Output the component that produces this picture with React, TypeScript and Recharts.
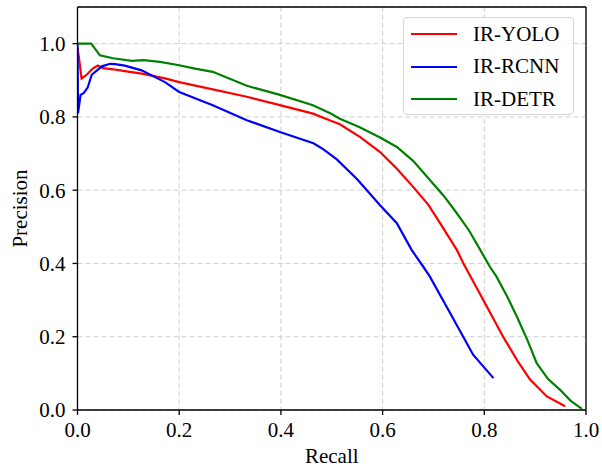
import React from 'react';
import { LineChart, Line, XAxis, YAxis, CartesianGrid, ReferenceLine, Legend, Label } from 'recharts';

const xTicks = [0, 0.2, 0.4, 0.6, 0.8, 1.0];
const yTicks = [0, 0.2, 0.4, 0.6, 0.8, 1.0];

const yoloRecall = [0, 0.003, 0.008, 0.018, 0.03, 0.04, 0.05, 0.07, 0.093, 0.126, 0.172, 0.2, 0.266, 0.333, 0.398, 0.463, 0.497, 0.516, 0.556, 0.595, 0.625, 0.66, 0.69, 0.713, 0.746, 0.759, 0.798, 0.837, 0.865, 0.89, 0.923, 0.959];
const yoloPrecision = [0.99, 0.96, 0.905, 0.915, 0.932, 0.94, 0.933, 0.93, 0.925, 0.918, 0.905, 0.895, 0.875, 0.855, 0.832, 0.809, 0.79, 0.78, 0.745, 0.704, 0.663, 0.609, 0.56, 0.51, 0.437, 0.4, 0.3, 0.2, 0.135, 0.083, 0.037, 0.01];

const rcnnRecall = [0, 0.001, 0.006, 0.012, 0.02, 0.028, 0.048, 0.064, 0.074, 0.093, 0.126, 0.172, 0.2, 0.266, 0.333, 0.398, 0.464, 0.483, 0.51, 0.55, 0.595, 0.628, 0.657, 0.68, 0.693, 0.733, 0.778, 0.818];
const rcnnPrecision = [1.0, 0.81, 0.86, 0.865, 0.88, 0.915, 0.938, 0.945, 0.944, 0.94, 0.927, 0.895, 0.868, 0.832, 0.791, 0.759, 0.728, 0.712, 0.684, 0.63, 0.559, 0.51, 0.437, 0.391, 0.364, 0.264, 0.151, 0.087];

const detrRecall = [0, 0.027, 0.035, 0.044, 0.07, 0.107, 0.13, 0.162, 0.2, 0.231, 0.266, 0.333, 0.359, 0.398, 0.463, 0.497, 0.516, 0.555, 0.595, 0.628, 0.66, 0.693, 0.72, 0.746, 0.77, 0.792, 0.811, 0.824, 0.845, 0.864, 0.885, 0.903, 0.925, 0.949, 0.97, 0.992];
const detrPrecision = [1.0, 1.0, 0.985, 0.968, 0.96, 0.953, 0.955, 0.95, 0.941, 0.932, 0.923, 0.885, 0.875, 0.86, 0.832, 0.81, 0.795, 0.772, 0.744, 0.718, 0.68, 0.628, 0.585, 0.537, 0.49, 0.437, 0.391, 0.364, 0.31, 0.255, 0.19, 0.128, 0.085, 0.055, 0.025, 0.003];

const seriesNames = ['IR-YOLO', 'IR-RCNN', 'IR-DETR'];
const seriesColors = ['#ff0000', '#0000ff', '#008000'];

const toPoints = (rs: number[], ps: number[]) => rs.map((r, i) => ({ r, p: ps[i] }));
const seriesData = [
  toPoints(yoloRecall, yoloPrecision),
  toPoints(rcnnRecall, rcnnPrecision),
  toPoints(detrRecall, detrPrecision),
];

const FONT = 'Liberation Serif';
const tickStyle = { fontFamily: FONT, fontSize: 21, fill: '#000' };

const LegendBox = () => (
  <div
    style={{
      width: 171,
      height: 98,
      boxSizing: 'border-box',
      border: '1px solid #d6d6d6',
      borderRadius: 4,
      background: 'rgba(255,255,255,0.85)',
    }}
  >
    {seriesNames.map((name, i) => (
      <div key={name} style={{ display: 'flex', alignItems: 'center', height: 32.5 }}>
        <svg width={46} height={4} style={{ marginLeft: 7, marginRight: 16 }}>
          <line x1={0} y1={2} x2={46} y2={2} stroke={seriesColors[i]} strokeWidth={2.2} />
        </svg>
        <span style={{ fontFamily: FONT, fontSize: 21, lineHeight: 1, color: '#000' }}>{name}</span>
      </div>
    ))}
  </div>
);

export default function App() {
  return (
    <div style={{ position: 'absolute', left: 0, top: 0, width: 602, height: 468, background: '#fff', fontFamily: FONT }}>
      <LineChart width={602} height={468} margin={{ top: 7, right: 16, left: 17.5, bottom: 0 }}>
        <CartesianGrid stroke="#cfcfcf" strokeDasharray="5 3" strokeWidth={1} />
        <XAxis
          type="number"
          dataKey="r"
          domain={[0, 1]}
          ticks={xTicks}
          allowDataOverflow
          height={58}
          tickFormatter={(v: number) => v.toFixed(1)}
          tick={tickStyle}
          tickSize={5}
          tickMargin={7}
          axisLine={{ stroke: '#000', strokeWidth: 1.3 }}
          tickLine={{ stroke: '#000', strokeWidth: 1.3 }}
        >
          <Label value="Recall" position="insideBottom" offset={5} style={{ fontFamily: FONT, fontSize: 21, fill: '#000' }} />
        </XAxis>
        <YAxis
          type="number"
          dataKey="p"
          domain={[0, 1.1]}
          ticks={yTicks}
          allowDataOverflow
          width={60}
          tickFormatter={(v: number) => v.toFixed(1)}
          tick={tickStyle}
          tickSize={5}
          tickMargin={7}
          axisLine={{ stroke: '#000', strokeWidth: 1.3 }}
          tickLine={{ stroke: '#000', strokeWidth: 1.3 }}
        >
          <Label
            value="Precision"
            angle={-90}
            position="insideLeft"
            offset={2.5}
            style={{ fontFamily: FONT, fontSize: 21, fill: '#000', textAnchor: 'middle' }}
          />
        </YAxis>
        {seriesData.map((d, i) => (
          <Line
            key={seriesNames[i]}
            data={d}
            dataKey="p"
            name={seriesNames[i]}
            type="linear"
            stroke={seriesColors[i]}
            strokeWidth={2.2}
            dot={false}
            activeDot={false}
            isAnimationActive={false}
          />
        ))}
        <ReferenceLine y={1.1} stroke="#000" strokeWidth={1.3} />
        <ReferenceLine x={1} stroke="#000" strokeWidth={1.3} />
        <Legend
          layout="vertical"
          align="center"
          verticalAlign="middle"
          content={() => <LegendBox />}
          wrapperStyle={{ position: 'absolute', left: 403, top: 17, width: 171, height: 98 }}
        />
      </LineChart>
    </div>
  );
}
